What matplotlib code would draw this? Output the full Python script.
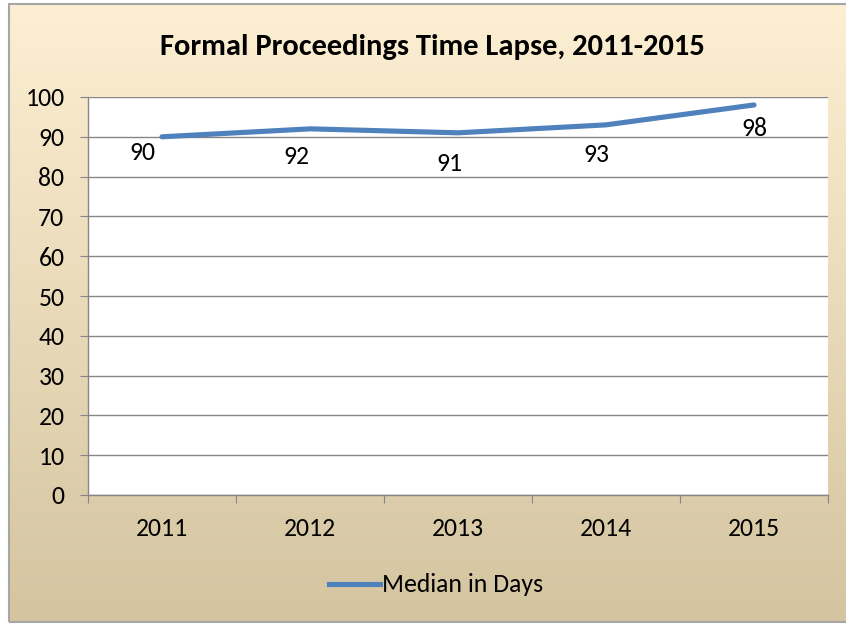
import matplotlib
matplotlib.use("Agg")
import matplotlib.pyplot as plt
import numpy as np
from matplotlib.patches import Rectangle
from matplotlib.lines import Line2D

plt.rcParams['font.family'] = ['Carlito', 'Liberation Sans Narrow', 'Roboto Condensed',
                               'Open Sans', 'DejaVu Sans']

# data
years = ['2011', '2012', '2013', '2014', '2015']
median_days = [90, 92, 91, 93, 98]
series_name = 'Median in Days'
title = 'Formal Proceedings Time Lapse, 2011-2015'

# where each value label sits relative to its point (points)
label_offsets = [(-14, -11), (-10, -20), (-6, -22), (-7, -21), (0, -17)]

W, H = 846, 625
fig = plt.figure(figsize=(W / 100, H / 100), dpi=100)
fig.patch.set_facecolor('white')

# chart area with gradient fill
fx0, fy0, fx1, fy1 = 9, 4, 850, 622
bg = fig.add_axes([fx0 / W, (H - fy1) / H, (fx1 - fx0) / W, (fy1 - fy0) / H])
top = np.array([253, 239, 210]) / 255
bot = np.array([212, 196, 160]) / 255
t = np.linspace(0, 1, 256)[:, None]
grad = (top[None, :] * (1 - t) + bot[None, :] * t)[:, None, :]
bg.imshow(grad, aspect='auto', extent=[0, 1, 0, 1])
bg.set_xlim(0, 1)
bg.set_ylim(0, 1)
bg.axis('off')
bg.add_patch(Rectangle((0, 0), 1, 1, transform=bg.transAxes, fill=False,
                       edgecolor='#a6a6a6', linewidth=1.5, clip_on=False))

# plot area
px0, py0, px1, py1 = 88, 97, 828, 495
ax = fig.add_axes([px0 / W, (H - py1) / H, (px1 - px0) / W, (py1 - py0) / H])
ax.set_facecolor('white')
x = np.arange(len(years))
ax.plot(x, median_days, color='#4f81bd', linewidth=3.7, solid_capstyle='round',
        zorder=3)

for xi, v, off in zip(x, median_days, label_offsets):
    ax.annotate(str(v), (xi, v), xytext=off, textcoords='offset points',
                ha='center', va='center', fontsize=18.5, color='black')

ax.set_xlim(-0.5, len(years) - 0.5)
ax.set_ylim(0, 100)
ax.set_yticks(np.arange(0, 101, 10))
ax.yaxis.grid(True, color='#868686', linewidth=1)
ax.set_axisbelow(True)
ax.set_xticks(np.arange(-0.5, len(years), 1.0))
ax.set_xticklabels([])
ax.set_xticks(x, minor=True)
ax.set_xticklabels(years, minor=True)
ax.tick_params(axis='x', which='major', length=6, color='#868686', direction='out')
ax.tick_params(axis='x', which='minor', length=0, pad=16, labelsize=18.5)
ax.tick_params(axis='y', length=6, color='#868686', labelsize=18.5, pad=11)
for s in ['top', 'right']:
    ax.spines[s].set_visible(False)
for s in ['left', 'bottom']:
    ax.spines[s].set_color('#868686')
    ax.spines[s].set_linewidth(1)

fig.text(432 / W, 1 - 47 / H, title, ha='center', va='center',
         fontsize=22, fontweight='bold')

handle = Line2D([], [], color='#4f81bd', linewidth=3.7)
fig.legend([handle], [series_name], loc='center', bbox_to_anchor=(436 / W, 1 - 585 / H),
           frameon=False, fontsize=18.5, handlelength=2.0, handletextpad=0.05)

fig.savefig('out.png', dpi=100)
